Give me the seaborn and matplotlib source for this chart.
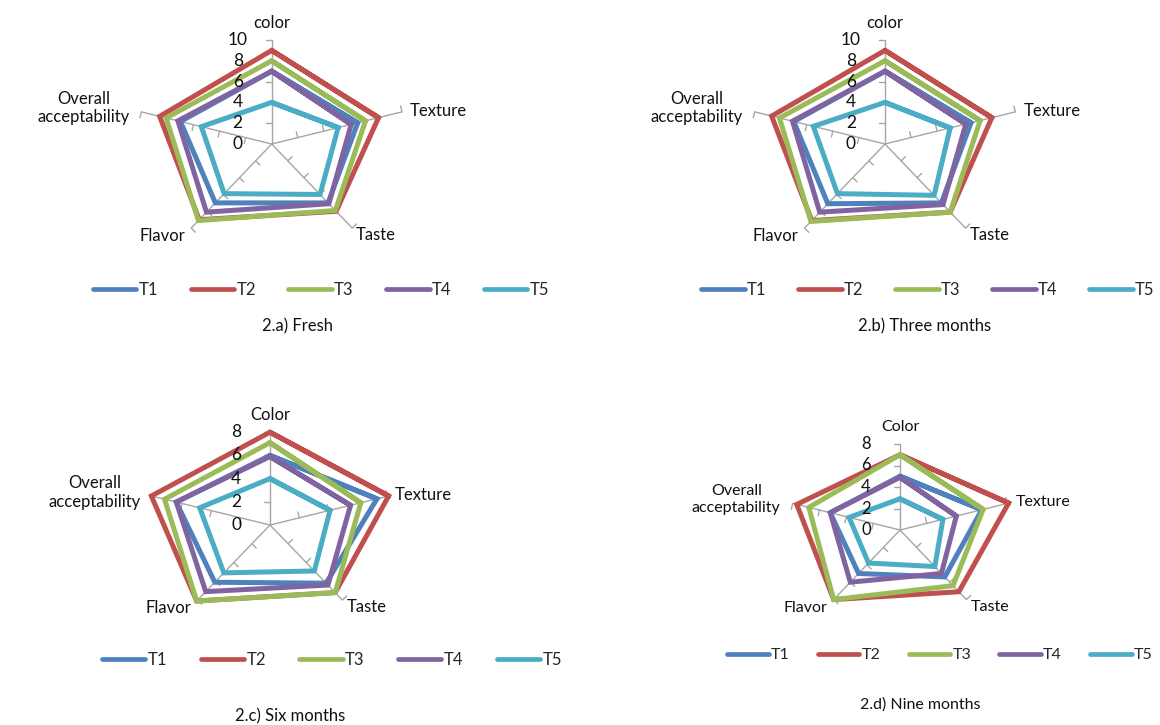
import numpy as np
import pandas as pd
import matplotlib
matplotlib.use("Agg")
import matplotlib.pyplot as plt
from matplotlib.lines import Line2D
import seaborn as sns

# ---- data -------------------------------------------------------------
treatments = ["T1", "T2", "T3", "T4", "T5"]
attributes_fresh = ["color", "Texture", "Taste", "Flavor", "Overall\nacceptability"]
attributes_stored = ["Color", "Texture", "Taste", "Flavor", "Overall\nacceptability"]

# rows: T1..T5, columns: color, texture, taste, flavor, overall acceptability
fresh = [
    [7.0, 6.6, 7.0, 7.0, 7.0],
    [9.0, 8.2, 8.0, 9.0, 8.6],
    [8.0, 7.2, 7.9, 9.1, 8.1],
    [7.0, 6.1, 7.1, 8.1, 7.2],
    [4.0, 5.1, 6.0, 5.9, 5.4],
]
three_months = [
    [7.0, 6.6, 7.0, 7.1, 7.0],
    [9.0, 8.2, 8.1, 9.1, 8.7],
    [8.0, 7.3, 8.1, 9.2, 8.1],
    [7.0, 6.2, 7.2, 8.1, 7.1],
    [4.0, 5.0, 6.1, 5.9, 5.5],
]
six_months = [
    [6.0, 7.3, 6.2, 6.1, 6.4],
    [8.0, 8.1, 7.2, 8.1, 8.1],
    [7.1, 6.2, 7.2, 8.1, 7.2],
    [5.9, 5.5, 6.4, 7.1, 6.4],
    [4.0, 4.1, 4.9, 5.1, 4.8],
]
nine_months = [
    [5.0, 6.1, 5.4, 5.0, 5.2],
    [7.0, 8.1, 7.1, 8.0, 7.7],
    [7.0, 6.2, 6.4, 8.0, 6.8],
    [4.9, 4.2, 5.0, 6.0, 5.2],
    [2.9, 3.2, 4.2, 3.8, 3.8],
]

palette = ["#4F81BD", "#C0504D", "#9BBB59", "#8064A2", "#4BACC6"]

W, H = 1160, 725
FONT = "Lato"
TEXT_COLOR = "#111111"

sns.set_theme(style="white")
plt.rcParams["font.family"] = [FONT, "DejaVu Sans"]

fig = plt.figure(figsize=(W / 100, H / 100), dpi=100)
fig.patch.set_facecolor("white")


def radar_panel(scores, labels, vmax, step, center, sx, sy, box,
                caption, caption_xy, legend_xy, fs, colspace):
    cx, cy = center
    left, top, right, bottom = box
    ax = fig.add_axes([left / W, 1 - bottom / H, (right - left) / W, (bottom - top) / H])
    xlim = ((left - cx) / sx, (right - cx) / sx)
    ylim = ((cy - bottom) / sy, (cy - top) / sy)
    ax.axis("off")

    n = len(labels)
    theta = np.deg2rad(90 - 72 * np.arange(n))
    cos_t, sin_t = np.cos(theta), np.sin(theta)

    # spokes with tick marks
    for k in range(n):
        ax.plot([0, vmax * cos_t[k]], [0, vmax * sin_t[k]], color="#A6A6A6",
                lw=1.0, zorder=1, solid_capstyle="butt")
        dpx = np.array([cos_t[k] * sx, sin_t[k] * sy])
        dpx /= np.hypot(*dpx)
        perp = np.array([-dpx[1], dpx[0]]) * 6.0
        for t in np.arange(step, vmax + step / 2, step):
            px, py = t * cos_t[k], t * sin_t[k]
            ax.plot([px, px + perp[0] / sx], [py, py + perp[1] / sy],
                    color="#A6A6A6", lw=1.0, zorder=1)

    # value labels on the first spoke
    for t in np.arange(0, vmax + step / 2, step):
        ax.text(-34 / sx, t, f"{int(t)}", ha="center", va="center",
                fontsize=fs + 0.5, color=TEXT_COLOR, zorder=5)

    # attribute labels
    offsets = [((0, 17), "center"), ((8, 1), "left"), ((4, -7), "left"),
               ((-6, -8), "right"), ((-12, 4), "right")]
    for k, lab in enumerate(labels):
        (ox, oy), ha = offsets[k]
        ax.annotate(lab, xy=(vmax * cos_t[k], vmax * sin_t[k]),
                    xytext=(ox, oy), textcoords="offset pixels",
                    ha=ha, va="center", multialignment="center",
                    fontsize=fs, color=TEXT_COLOR)

    # series polygons (first two vertices repeated so every corner is mitred)
    rows = []
    for name, vals in zip(treatments, scores):
        vals = np.asarray(vals, dtype=float)
        order = list(range(n)) + [0, 1]
        for i, idx in enumerate(order):
            rows.append({"treatment": name, "step": i,
                         "x": vals[idx] * cos_t[idx], "y": vals[idx] * sin_t[idx]})
    df = pd.DataFrame(rows)
    sns.lineplot(data=df, x="x", y="y", hue="treatment", hue_order=treatments,
                 palette=palette, sort=False, estimator=None, units="treatment",
                 linewidth=3.6, legend=False, ax=ax, zorder=3,
                 solid_joinstyle="miter")
    ax.set_xlim(*xlim)
    ax.set_ylim(*ylim)
    ax.set_xlabel("")
    ax.set_ylabel("")

    handles = [Line2D([0], [0], color=c, lw=3.4) for c in palette]
    fig.legend(handles, treatments, loc="center",
               bbox_to_anchor=(legend_xy[0] / W, 1 - legend_xy[1] / H),
               ncol=5, frameon=False, handlelength=2.6, handletextpad=0.15,
               columnspacing=colspace, fontsize=fs)
    fig.text(caption_xy[0] / W, 1 - caption_xy[1] / H, caption,
             ha="center", va="center", fontsize=fs, color=TEXT_COLOR)


radar_panel(fresh, attributes_fresh, 10, 2, (271.7, 144), 13.7, 10.4,
            (40, 5, 520, 262), "2.a) Fresh", (298, 326), (321, 290), 12, 1.95)
radar_panel(three_months, attributes_fresh, 10, 2, (885, 144), 13.7, 10.4,
            (650, 5, 1155, 262), "2.b) Three months", (925, 326), (928, 290), 12, 1.9)
radar_panel(six_months, attributes_stored, 8, 2, (270, 525), 15.4, 11.6,
            (20, 395, 520, 640), "2.c) Six months", (290, 716), (332, 660), 12, 2.0)
radar_panel(nine_months, attributes_stored, 8, 2, (900, 530), 14.1, 10.75,
            (660, 410, 1155, 630), "2.d) Nine months", (920, 705), (940, 655), 11.5, 1.75)

fig.savefig("out.png", dpi=100, facecolor="white")
